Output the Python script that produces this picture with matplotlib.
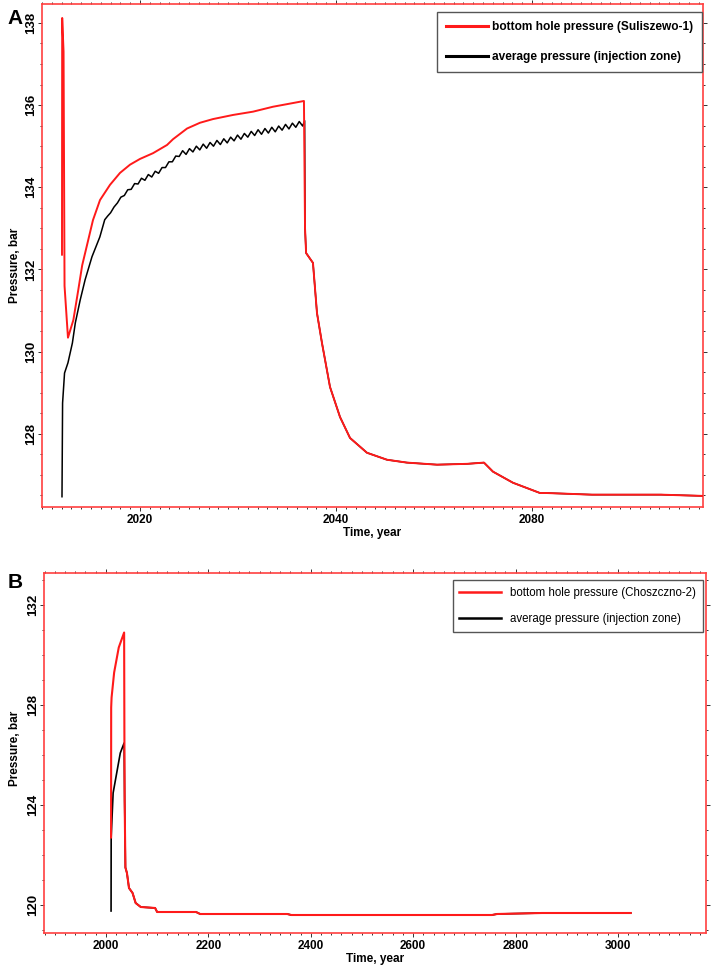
import matplotlib
matplotlib.use("Agg")
import matplotlib.pyplot as plt
from matplotlib.ticker import MultipleLocator

plt.rcParams['font.family'] = ['Liberation Sans', 'DejaVu Sans']

# ---- panel A : Suliszewo-1 ----
red_a_years = [2012.04, 2012.06, 2012.2, 2012.3, 2012.65, 2013.2, 2013.7, 2014.1, 2014.6,
               2015.2, 2015.92, 2016.94, 2017.96, 2018.98, 2020.0, 2021.33, 2022.76, 2023.37,
               2024.80, 2026.12, 2027.45, 2029.49, 2031.53, 2033.57, 2035.61, 2036.73,
               2036.84, 2036.95, 2037.65, 2038.06, 2038.57, 2039.39, 2040.41, 2041.43,
               2043.16, 2045.20, 2047.24, 2050.31, 2053.37, 2055.10, 2056.02, 2058.06,
               2060.82, 2061.53, 2066.12, 2073.16, 2077.4]
red_a_vals = [132.36, 138.12, 137.3, 131.6, 130.34, 130.77, 131.5, 132.1, 132.6,
              133.2, 133.69, 134.06, 134.35, 134.55, 134.69, 134.83, 135.03, 135.17,
              135.43, 135.57, 135.66, 135.76, 135.84, 135.96, 136.05, 136.10,
              133.0, 132.40, 132.16, 130.94, 130.21, 129.14, 128.41, 127.90,
              127.54, 127.37, 127.30, 127.25, 127.27, 127.30, 127.08, 126.81,
              126.56, 126.56, 126.52, 126.52, 126.49]

black_a_years = [2012.04, 2012.1, 2012.3, 2012.65, 2013.1, 2013.4, 2013.9, 2014.4, 2015.1,
                 2015.9, 2016.4, 2016.7, 2017.0, 2017.35, 2017.7, 2018.05, 2018.4, 2018.75,
                 2019.1, 2019.45, 2019.8, 2020.15, 2020.5, 2020.85, 2021.2, 2021.55,
                 2021.9, 2022.25, 2022.6, 2022.95, 2023.3, 2023.65, 2024.0, 2024.35,
                 2024.7, 2025.05, 2025.4, 2025.75, 2026.1, 2026.45, 2026.8, 2027.15,
                 2027.5, 2027.85, 2028.2, 2028.55, 2028.9, 2029.25, 2029.6, 2029.95,
                 2030.3, 2030.65, 2031.0, 2031.35, 2031.7, 2032.05, 2032.4, 2032.75,
                 2033.1, 2033.45, 2033.8, 2034.15, 2034.5, 2034.85, 2035.2, 2035.55,
                 2035.9, 2036.25, 2036.6, 2036.8]
black_a_vals = [126.47, 128.75, 129.48, 129.73, 130.21, 130.70, 131.26, 131.75, 132.31,
                132.79, 133.21, 133.30, 133.38, 133.52, 133.62, 133.76, 133.80, 133.94,
                133.95, 134.09, 134.08, 134.22, 134.17, 134.31, 134.25, 134.39,
                134.34, 134.48, 134.48, 134.62, 134.62, 134.76, 134.75, 134.89,
                134.80, 134.94, 134.86, 135.00, 134.91, 135.05, 134.95, 135.09,
                135.00, 135.14, 135.04, 135.18, 135.08, 135.22, 135.13, 135.27,
                135.17, 135.31, 135.22, 135.36, 135.26, 135.40, 135.29, 135.43,
                135.32, 135.46, 135.35, 135.49, 135.39, 135.53, 135.42, 135.56,
                135.46, 135.60, 135.49, 135.62]
# after shut-in the average pressure follows the well pressure
black_a_years = black_a_years + red_a_years[26:]
black_a_vals = black_a_vals + red_a_vals[26:]

xticks_a = [2020, 2040, 2060]
xlabels_a = ['2020', '2040', '2080']
yticks_a = [128, 130, 132, 134, 136, 138]

# ---- panel B : Choszczno-2 ----
red_b_years = [2010, 2010.2, 2011, 2016, 2025, 2035.5, 2036, 2036.5, 2038, 2041, 2045,
               2052, 2058, 2068, 2096, 2100, 2176, 2184, 2354, 2362, 2754, 2764, 2852, 3025]
red_b_vals = [122.7, 127.9, 128.3, 129.3, 130.3, 130.9, 127.0, 124.2, 121.5, 121.28, 120.68,
              120.48, 120.08, 119.92, 119.88, 119.72, 119.72, 119.64, 119.64, 119.6, 119.6,
              119.64, 119.68, 119.68]
black_b_years = [2010, 2010.2, 2014, 2021, 2028, 2035.5]
black_b_vals = [119.76, 122.7, 124.48, 125.28, 126.08, 126.48]
black_b_years = black_b_years + red_b_years[7:]
black_b_vals = black_b_vals + red_b_vals[7:]

xticks_b = [2000, 2200, 2400, 2600, 2800, 3000]
yticks_b = [120, 124, 128, 132]

RED = '#ff1a1a'
FRAME = '#ff4040'

fig = plt.figure(figsize=(7.13, 9.72), dpi=100)
ax1 = fig.add_axes([42 / 713, 1 - 507 / 972, 661 / 713, 503 / 972])
ax2 = fig.add_axes([44 / 713, 1 - 933 / 972, 662 / 713, 360 / 972])

ax1.plot(black_a_years, black_a_vals, color='black', lw=1.1, zorder=2,
         label='average pressure (injection zone)')
ax1.plot(red_a_years, red_a_vals, color=RED, lw=1.4, zorder=3,
         label='bottom hole pressure (Suliszewo-1)')
ax1.set_xlim(2010.0, 2077.45)
ax1.set_ylim(126.22, 138.46)
ax1.set_xticks(xticks_a)
ax1.set_xticklabels(xlabels_a)
ax1.xaxis.set_minor_locator(MultipleLocator(1))
ax1.set_yticks(yticks_a)
ax1.yaxis.set_minor_locator(MultipleLocator(0.5))

ax2.plot(black_b_years, black_b_vals, color='black', lw=1.2, zorder=2,
         label='average pressure (injection zone)')
ax2.plot(red_b_years, red_b_vals, color=RED, lw=1.5, zorder=3,
         label='bottom hole pressure (Choszczno-2)')
ax2.set_xlim(1879, 3172)
ax2.set_ylim(118.88, 133.28)
ax2.set_xticks(xticks_b)
ax2.xaxis.set_minor_locator(MultipleLocator(20))
ax2.set_yticks(yticks_b)
ax2.yaxis.set_minor_locator(MultipleLocator(1))

for ax in (ax1, ax2):
    for sp in ax.spines.values():
        sp.set_color(FRAME)
        sp.set_linewidth(1.2)
    ax.tick_params(which='both', direction='out', top=True, right=True, color='#333333',
                   width=0.7)
    ax.tick_params(which='major', length=3, pad=2)
    ax.tick_params(which='minor', length=1.6)
    ax.tick_params(axis='x', labelsize=8.5)
    ax.tick_params(axis='y', labelsize=9.5, pad=0.5)
    for lab in ax.get_xticklabels() + ax.get_yticklabels():
        lab.set_fontweight('bold')
    for lab in ax.get_yticklabels():
        lab.set_rotation(90)
        lab.set_va('center')
    ax.set_xlabel('Time, year', fontsize=8.5, fontweight='bold', labelpad=1)
    ax.set_ylabel('Pressure, bar', fontsize=8.5, fontweight='bold')

ax1.yaxis.set_label_coords(-0.032, 0.481)
ax2.yaxis.set_label_coords(-0.035, 0.514)

# legends (red entry first)
h1, l1 = ax1.get_legend_handles_labels()
leg1 = ax1.legend(h1[::-1], l1[::-1], loc='upper right',
                  bbox_to_anchor=(702 / 713, 1 - 12 / 972), bbox_transform=fig.transFigure,
                  prop={'weight': 'bold', 'size': 8.6}, handlelength=3.5, labelspacing=1.55,
                  handletextpad=0.35, borderpad=0.75, fancybox=False, framealpha=1,
                  edgecolor='#555555', borderaxespad=0)
for ln in leg1.get_lines():
    ln.set_linewidth(2.2)

h2, l2 = ax2.get_legend_handles_labels()
leg2 = ax2.legend(h2[::-1], l2[::-1], loc='upper right',
                  bbox_to_anchor=(703 / 713, 1 - 580 / 972), bbox_transform=fig.transFigure,
                  prop={'size': 8.3}, handlelength=3.6, labelspacing=1.2,
                  handletextpad=0.8, borderpad=0.6, fancybox=False, framealpha=1,
                  edgecolor='#555555', borderaxespad=0)
for ln in leg2.get_lines():
    ln.set_linewidth(1.8)

fig.text(15 / 713, 1 - 18 / 972, 'A', fontsize=15, fontweight='bold', ha='center', va='center')
fig.text(15 / 713, 1 - 582 / 972, 'B', fontsize=15, fontweight='bold', ha='center', va='center')

fig.savefig('out.png', dpi=100)
